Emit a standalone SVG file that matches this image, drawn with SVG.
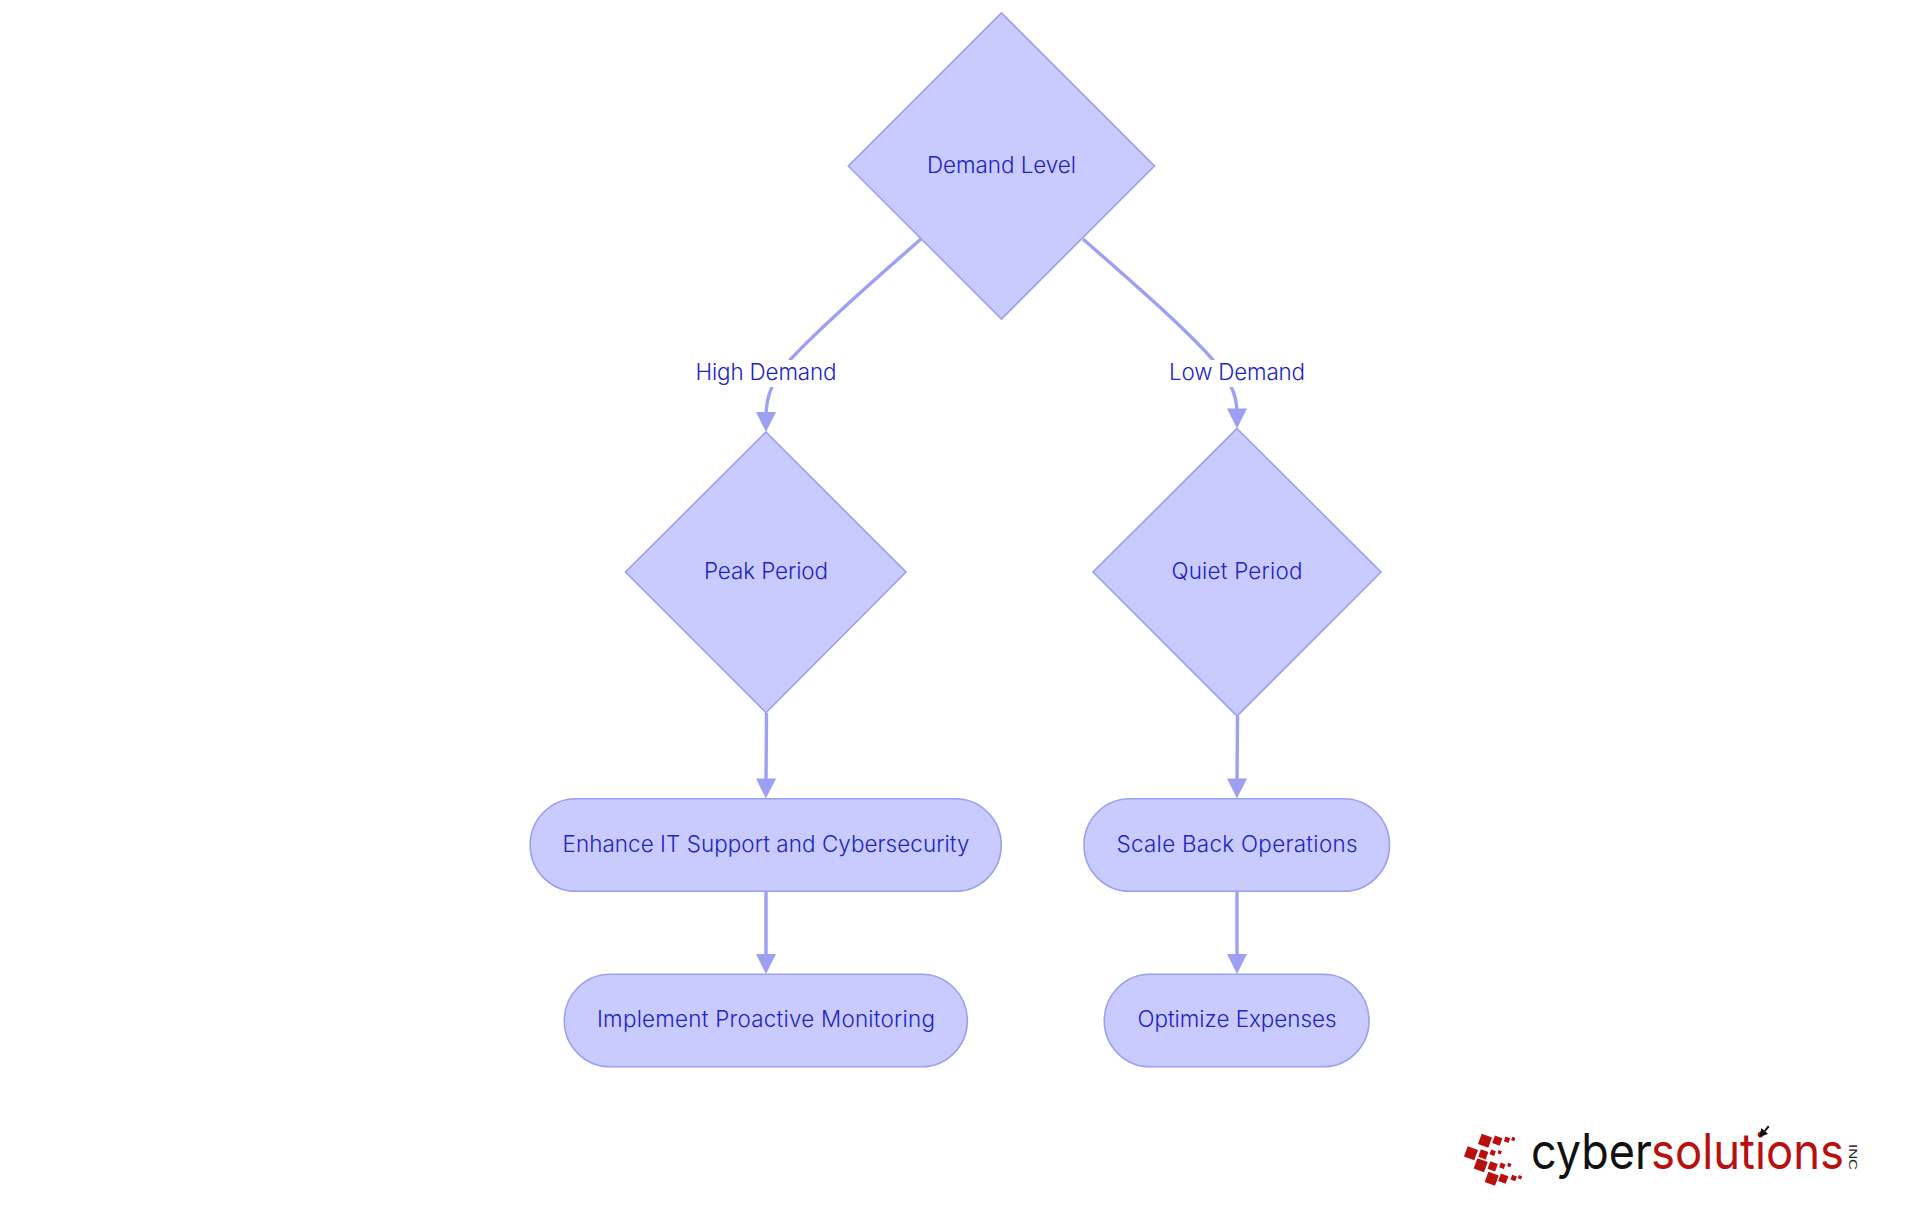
<svg xmlns="http://www.w3.org/2000/svg" width="1920" height="1215" viewBox="0 0 1920 1215">
<style>
.n{fill:#c9cafe;stroke:#9a9ff0;stroke-width:1.6}
.e{fill:none;stroke:#9da1f3;stroke-width:3.4}
.t{font-family:"Inter","Noto Sans","Liberation Sans",sans-serif;font-size:22.4px;font-weight:300;fill:#2024c6;text-anchor:middle}
.r{fill:#b80f0f}
.l{font-family:"Inter","Liberation Sans",sans-serif;font-size:49.5px;font-weight:400}
</style>
<defs>
<marker id="arrow" markerUnits="userSpaceOnUse" markerWidth="22" markerHeight="22" refX="6" refY="11" orient="auto"><path d="M1 1L21 11L1 21z" fill="#9c9ff2"/></marker>
</defs>
<rect width="1920" height="1215" fill="#fff"/>
<g id="connectors">
<path class="e" marker-end="url(#arrow)" d="M921 239C880 275 822 325 790 360C775 378 766 392 766 417"/>
<path class="e" marker-end="url(#arrow)" d="M1083 239C1124 275 1182 325 1213 360C1228 378 1237 392 1237 413.5"/>
<path class="e" marker-end="url(#arrow)" d="M766.5 713L766 783.5"/>
<path class="e" marker-end="url(#arrow)" d="M1237.5 716L1237 783.5"/>
<path class="e" marker-end="url(#arrow)" d="M766 891V959"/>
<path class="e" marker-end="url(#arrow)" d="M1237 891V959"/>
</g>
<g id="edge-label-high"><rect x="694" y="360" width="143" height="27" fill="#fff"/><text class="t" x="766" y="380" textLength="141">High Demand</text></g>
<g id="edge-label-low"><rect x="1168" y="360" width="138" height="27" fill="#fff"/><text class="t" x="1237" y="380" textLength="136">Low Demand</text></g>
<g id="node-demand"><polygon class="n" points="1001.5,13 1154.5,166 1001.5,319 848.3,166"/><text class="t" x="1001.5" y="173" textLength="149">Demand Level</text></g>
<g id="node-peak"><polygon class="n" points="766,432 906,572 766,712.7 625.5,572"/><text class="t" x="766" y="579" textLength="124">Peak Period</text></g>
<g id="node-quiet"><polygon class="n" points="1237,428.5 1381,572 1237,716 1093,572"/><text class="t" x="1237" y="579" textLength="131">Quiet Period</text></g>
<g id="node-enhance"><rect class="n" x="530.2" y="798.8" width="471" height="92.5" rx="46" ry="46"/><text class="t" x="766" y="852" textLength="407">Enhance IT Support and Cybersecurity</text></g>
<g id="node-implement"><rect class="n" x="564.3" y="974.3" width="403" height="92.5" rx="46" ry="46"/><text class="t" x="766" y="1027" textLength="338">Implement Proactive Monitoring</text></g>
<g id="node-scale"><rect class="n" x="1084" y="798.8" width="305.5" height="92.5" rx="46" ry="46"/><text class="t" x="1237" y="852" textLength="241">Scale Back Operations</text></g>
<g id="node-optimize"><rect class="n" x="1104.3" y="974.3" width="264.7" height="92.5" rx="46" ry="46"/><text class="t" x="1237" y="1027" textLength="199">Optimize Expenses</text></g>
<g id="logo">
<g class="r">
<rect x="-5.5" y="-5.5" width="11" height="11" transform="translate(1485 1140.7) rotate(20)"/>
<rect x="-4" y="-4" width="8" height="8" transform="translate(1497.3 1140.7) rotate(20)"/>
<rect x="-2.5" y="-2.5" width="5" height="5" transform="translate(1507 1139.7) rotate(20)"/>
<rect x="-1.7" y="-1.7" width="3.4" height="3.4" transform="translate(1513.3 1139) rotate(20)"/>
<rect x="-5.5" y="-5.5" width="11" height="11" transform="translate(1471 1153.3) rotate(20)"/>
<rect x="-4" y="-4" width="8" height="8" transform="translate(1483.3 1154.3) rotate(20)"/>
<rect x="-2.5" y="-2.5" width="5" height="5" transform="translate(1492.7 1152.7) rotate(20)"/>
<rect x="-1.7" y="-1.7" width="3.4" height="3.4" transform="translate(1499.7 1152.3) rotate(20)"/>
<rect x="-5.5" y="-5.5" width="11" height="11" transform="translate(1480.7 1165.3) rotate(20)"/>
<rect x="-4" y="-4" width="8" height="8" transform="translate(1492.7 1166.3) rotate(20)"/>
<rect x="-2.5" y="-2.5" width="5" height="5" transform="translate(1502.3 1165.7) rotate(20)"/>
<rect x="-1.7" y="-1.7" width="3.4" height="3.4" transform="translate(1509.3 1165) rotate(20)"/>
<rect x="-5.5" y="-5.5" width="11" height="11" transform="translate(1491.7 1178.7) rotate(20)"/>
<rect x="-4" y="-4" width="8" height="8" transform="translate(1503.3 1178.7) rotate(20)"/>
<rect x="-2.5" y="-2.5" width="5" height="5" transform="translate(1513.7 1178) rotate(20)"/>
<rect x="-1.7" y="-1.7" width="3.4" height="3.4" transform="translate(1520 1177.3) rotate(20)"/>
</g>
<text class="l" x="1531" y="1169" textLength="121" lengthAdjust="spacingAndGlyphs" fill="#111">cyber</text>
<text class="l" x="1651" y="1169" textLength="193" lengthAdjust="spacingAndGlyphs" fill="#b80f0f">solutions</text>
<text font-family="Liberation Sans, sans-serif" font-size="10" fill="#222" transform="translate(1848.5 1144) rotate(90)" textLength="26" lengthAdjust="spacingAndGlyphs">INC</text>
<path d="M1759 1137L1761.5 1128L1764 1130.5L1768 1125.5L1769.5 1127L1765.5 1131.5L1768 1134z" fill="#111"/>
</g>
</svg>
